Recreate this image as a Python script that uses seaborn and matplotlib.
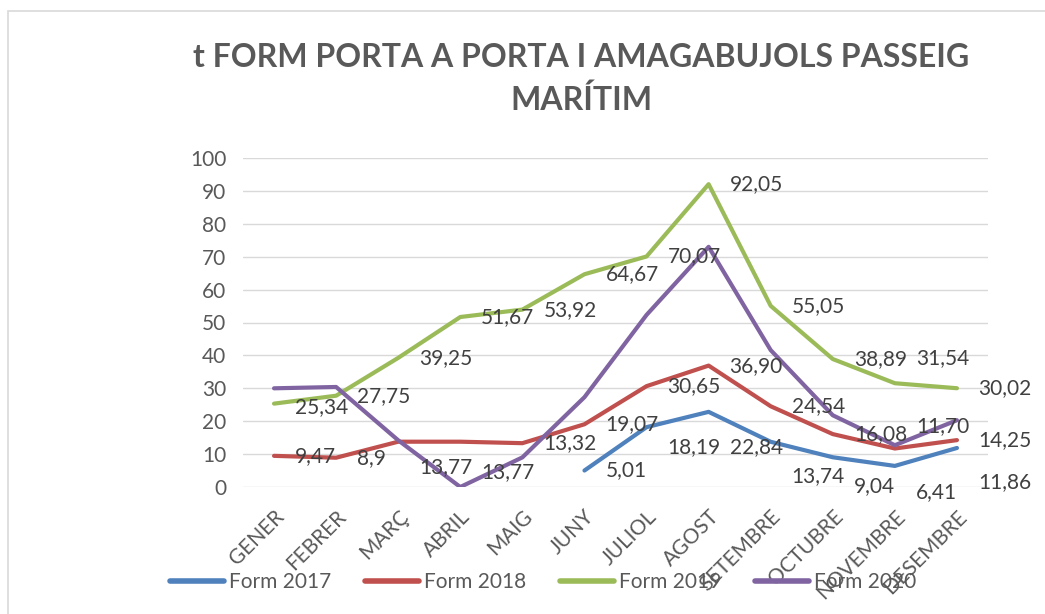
import matplotlib.pyplot as plt
import matplotlib.patches as mpatches
import seaborn as sns
import pandas as pd
import numpy as np

# months (x categories)
months = ["GENER", "FEBRER", "MARÇ", "ABRIL", "MAIG", "JUNY", "JULIOL",
          "AGOST", "SETEMBRE", "OCTUBRE", "NOVEMBRE", "DESEMBRE"]

# values as shown in the data labels (None = no data)
form_2017 = [None, None, None, None, None, "5,01", "18,19", "22,84", "13,74", "9,04", "6,41", "11,86"]
form_2018 = ["9,47", "8,9", "13,77", "13,77", "13,32", "19,07", "30,65", "36,90", "24,54", "16,08", "11,70", "14,25"]
form_2019 = ["25,34", "27,75", "39,25", "51,67", "53,92", "64,67", "70,07", "92,05", "55,05", "38,89", "31,54", "30,02"]
# 2020 has no labels
form_2020 = [30.0, 30.4, 14.2, 0.0, 9.0, 27.3, 52.3, 73.0, 41.6, 21.8, 12.7, 20.3]

# vertical offset of each data label in pixels (labels were dragged in the original)
dy_2017 = [0, 0, 0, 0, 0, 0, -20, -35, -34, -29, -26, -34]
dy_2018 = [0, 0, -25, -30, 0, 0, 0, 0, 0, 0, 22, 0]
dy_2019 = [-3, 0, 0, 0, 0, 0, 0, 0, 0, 0, 25, 0]

series = ["Form 2017", "Form 2018", "Form 2019", "Form 2020"]
colors = ["#4F81BD", "#C0504D", "#9BBB59", "#8064A2"]


def to_num(lst):
    return [np.nan if s is None else float(str(s).replace(",", ".")) for s in lst]


rows = []
for name, vals in zip(series, [to_num(form_2017), to_num(form_2018), to_num(form_2019), form_2020]):
    for i, v in enumerate(vals):
        rows.append({"mes": i, "t": v, "serie": name})
df = pd.DataFrame(rows)

sns.set_theme(style="white")
plt.rcParams["font.family"] = ["Lato", "DejaVu Sans"]
txt = "#595959"

fig = plt.figure(figsize=(10.45, 6.14), dpi=100)
ax = fig.add_axes([243 / 1045, 1 - 487 / 614, 745 / 1045, 329 / 614])

sns.lineplot(data=df, x="mes", y="t", hue="serie", palette=colors,
             linewidth=3, ax=ax, legend=False)

# data labels
for lab, dys in zip([form_2017, form_2018, form_2019], [dy_2017, dy_2018, dy_2019]):
    for i, (s, dy) in enumerate(zip(lab, dys)):
        if s is None:
            continue
        ax.annotate(s, (i, float(s.replace(",", "."))), xytext=(21, dy),
                    textcoords="offset pixels", ha="left", va="center",
                    fontsize=15, color="#404040")

ax.set_xlim(-0.5, 11.5)
ax.set_ylim(0, 100)
ax.set_yticks(range(0, 101, 10))
ax.set_xticks(range(12))
ax.set_xticklabels(months, rotation=45, ha="right", rotation_mode="anchor",
                   fontsize=15, color=txt)
ax.tick_params(axis="y", labelsize=15, labelcolor=txt, length=0, pad=12)
ax.tick_params(axis="x", length=0, pad=14)
ax.set_xlabel("")
ax.set_ylabel("")
ax.grid(axis="y", color="#D9D9D9", linewidth=1)
for sp in ax.spines.values():
    sp.set_visible(False)

fig.text(0.556, 1 - 79 / 614, "t FORM PORTA A PORTA I AMAGABUJOLS PASSEIG\nMARÍTIM",
         ha="center", va="center", fontsize=23, fontweight="bold", color=txt,
         linespacing=1.5)

handles = [plt.Line2D([], [], color=c, lw=4) for c in colors]
fig.legend(handles, series, loc="center", bbox_to_anchor=(543 / 1045, 1 - 582 / 614),
           ncol=4, frameon=False, fontsize=15, handlelength=2.6, handletextpad=0.25,
           columnspacing=1.6, labelcolor=txt)

# chart border
fig.patches.append(mpatches.Rectangle((8 / 1045, -0.01), 1.02, 1 - 11 / 614 + 0.01,
                                      transform=fig.transFigure, fill=False,
                                      edgecolor="#D9D9D9", linewidth=1.2))

fig.savefig("out.png", dpi=100)
